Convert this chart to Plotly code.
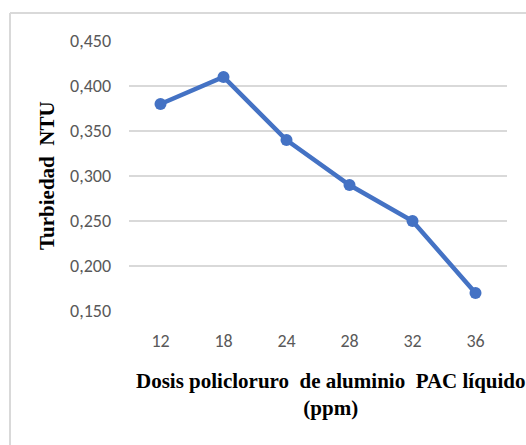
import plotly.graph_objects as go

dosis = ["12", "18", "24", "28", "32", "36"]
turbiedad = [0.380, 0.410, 0.340, 0.290, 0.250, 0.170]
y_ticks = [0.150, 0.200, 0.250, 0.300, 0.350, 0.400, 0.450]
y_labels = ["0,150", "0,200", "0,250", "0,300", "0,350", "0,400", "0,450"]
x_title = "<b>Dosis policloruro  de aluminio  PAC líquido</b><br><b>(ppm)</b>"
y_title = "<b>Turbiedad  NTU</b>"

W, H = 526, 445
L, R, T, B = 129, 19, 41, 134
pw, ph = W - L - R, H - T - B

def px(x):
    return (x - L) / pw

def py(y):
    return (H - B - y) / ph

tickfont = dict(family="Carlito, Calibri, Liberation Sans", size=18, color="#595959")
titlefont = dict(family="Liberation Serif", size=21, color="black")

fig = go.Figure()
fig.add_trace(go.Scatter(
    x=dosis, y=turbiedad, mode="lines+markers",
    line=dict(color="#4472C4", width=4.5),
    marker=dict(color="#4472C4", size=12),
    showlegend=False, hoverinfo="skip"))

fig.update_layout(
    width=W, height=H,
    margin=dict(l=L, r=R, t=T, b=B),
    paper_bgcolor="white", plot_bgcolor="white",
    xaxis=dict(type="category", range=[-0.5, 5.5], showgrid=False, zeroline=False,
               showline=False, ticks="", tickfont=tickfont, ticklabelstandoff=17),
    yaxis=dict(range=[0.150, 0.450], tickvals=y_ticks, ticktext=y_labels,
               showgrid=True, gridcolor="#D9D9D9", gridwidth=1.5, zeroline=False,
               showline=False, ticks="", ticklabelstandoff=17, tickfont=tickfont),
    annotations=[
        dict(text=x_title, xref="paper", yref="paper", x=px(331), y=py(367),
             xanchor="center", yanchor="top", showarrow=False, font=titlefont),
        dict(text=y_title, xref="paper", yref="paper", x=px(47), y=py(176),
             xanchor="center", yanchor="middle", textangle=-90, showarrow=False, font=titlefont),
    ],
    shapes=[
        dict(type="line", xref="paper", yref="paper", x0=px(10), x1=px(530), y0=py(13), y1=py(13),
             line=dict(color="#D9D9D9", width=2)),
        dict(type="line", xref="paper", yref="paper", x0=px(10), x1=px(10), y0=py(13), y1=py(450),
             line=dict(color="#D9D9D9", width=2)),
    ],
)

fig.write_html("out.html")
